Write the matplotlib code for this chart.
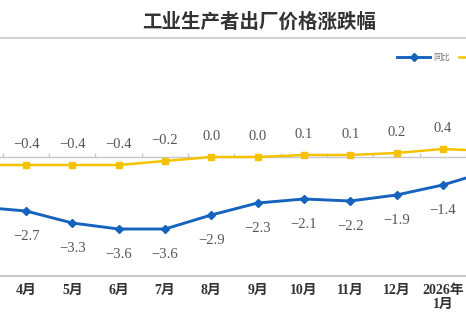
import numpy as np
import matplotlib
matplotlib.use('Agg')
from matplotlib import pyplot as plt
from matplotlib.lines import Line2D

plt.rcParams['font.family'] = ['Liberation Serif', 'Noto Sans CJK SC']

# 2025年3月 ... 2026年2月 (the picture is cropped on both sides)
months = ['3月', '4月', '5月', '6月', '7月', '8月', '9月', '10月', '11月', '12月', '2026年\n1月', '2月']
yoy = [-2.5, -2.7, -3.3, -3.6, -3.6, -2.9, -2.3, -2.1, -2.2, -1.9, -1.4, -0.7]
mom = [-0.4, -0.4, -0.4, -0.4, -0.2, 0.0, 0.0, 0.1, 0.1, 0.2, 0.4, 0.3]

blue = '#1663BE'
yellow = '#F5C200'
grey = '#C8C8C8'

fig = plt.figure(figsize=(4.66, 3.24), dpi=100)
ax = fig.add_axes([0, 48/324, 1, 216/324])
x = np.arange(len(months))

ax.plot(x, mom, color=yellow, lw=1.8, marker='s', ms=4.5, zorder=3)
ax.plot(x, yoy, color=blue, lw=2.1, marker='D', ms=4.2, zorder=3)

# zero line with small ticks between categories
ax.axhline(0, color=grey, lw=1.0, zorder=1)
ax.vlines(x - 0.5, 0, 0.2, color=grey, lw=1.0, zorder=1)

# labels only for the points inside the visible window
for xi, v in zip(x, mom):
    ax.annotate(f'{v:.1f}'.replace('-', '\u2212'), (xi, v), xytext=(0, 21),
                textcoords='offset pixels', ha='center', va='center',
                fontsize=10.5, color='#555555')
for xi, v in zip(x, yoy):
    ax.annotate(f'{v:.1f}'.replace('-', '\u2212'), (xi, v), xytext=(0, -25),
                textcoords='offset pixels', ha='center', va='center',
                fontsize=10.5, color='#555555')

ax.set_xticks(x)
ax.set_xticklabels(months, fontsize=10, fontweight='bold', color='#333333', linespacing=1.05)
ax.set_xlim(0.438, 10.5)
ax.set_ylim(-5.95, 4.85)
ax.tick_params(axis='x', length=0, pad=6)
ax.set_yticks([])
for s in ['top', 'left', 'right']:
    ax.spines[s].set_visible(False)
ax.spines['bottom'].set_color(grey)
ax.spines['bottom'].set_linewidth(1.5)

# title and the rule under it
fig.text(259/466, 1 - 22/324, '工业生产者出厂价格涨跌幅', ha='center', va='center',
         fontsize=14, fontweight='bold', color='#333333', family='Noto Sans CJK SC')
fig.add_artist(Line2D([0, 1], [1 - 38/324, 1 - 38/324], color=grey, lw=1.2))

handles = [Line2D([], [], color=blue, lw=2.1, marker='D', ms=4.2),
           Line2D([], [], color=yellow, lw=1.8, marker='s', ms=4.5)]
fig.legend(handles, ['同比', '环比'], loc='center left', ncol=2,
           bbox_to_anchor=(397/466, 1 - 57/324), frameon=False,
           handlelength=4, handletextpad=0.4, columnspacing=1.0, borderpad=0,
           borderaxespad=0, labelcolor='#777777', prop={'family': 'Noto Sans CJK SC', 'size': 6})

fig.savefig('out.png', dpi=100)
